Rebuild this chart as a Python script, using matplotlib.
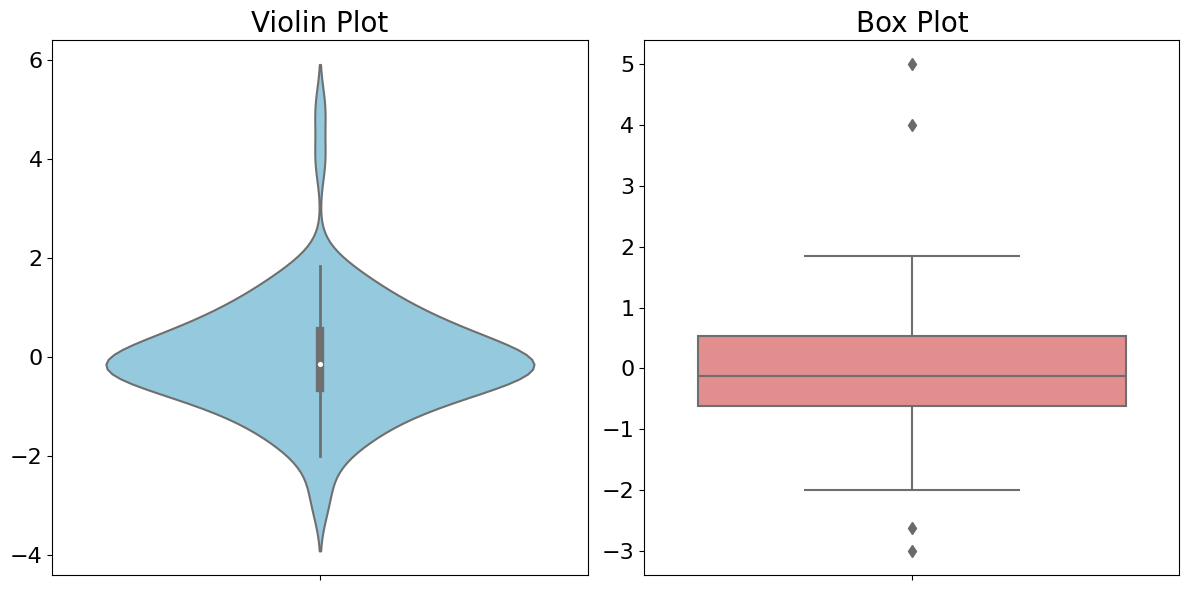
import matplotlib
matplotlib.use('Agg')
import matplotlib.pyplot as plt
import seaborn as sns
import pandas as pd

# sample values (box stats: q1 -0.62, median -0.13, q3 0.53)
values = [-3.00, -2.62, -1.99, -1.92, -1.76, -1.63, -1.55, -1.47, -1.41, -1.33,
          -1.24, -1.19, -1.12, -1.06, -1.01, -0.96, -0.91, -0.87, -0.83, -0.78,
          -0.74, -0.71, -0.68, -0.65, -0.62, -0.59, -0.56, -0.53, -0.50, -0.47,
          -0.45, -0.42, -0.40, -0.37, -0.35, -0.33, -0.31, -0.29, -0.27, -0.25,
          -0.23, -0.21, -0.20, -0.18, -0.17, -0.16, -0.15, -0.14, -0.13, -0.125,
          -0.115, -0.10, -0.08, -0.06, -0.04, -0.02, 0.00, 0.03, 0.06, 0.09,
          0.12, 0.15, 0.18, 0.21, 0.24, 0.27, 0.30, 0.33, 0.36, 0.40,
          0.44, 0.49, 0.53, 0.56, 0.59, 0.62, 0.66, 0.68, 0.71, 0.76,
          0.81, 0.87, 0.93, 0.99, 1.02, 1.06, 1.13, 1.21, 1.29, 1.38,
          1.47, 1.56, 1.66, 1.76, 1.85, 4.00, 5.00]

titles = ["Violin Plot", "Box Plot"]
colors = ["skyblue", "lightcoral"]

df = pd.DataFrame({"value": values})

fig, axes = plt.subplots(1, 2, figsize=(11.89, 5.9), dpi=100)

sns.violinplot(y="value", data=df, color=colors[0], ax=axes[0], linewidth=1.5,
               inner_kws=dict(box_width=6, whis_width=2, marker="."))
sns.boxplot(y="value", data=df, color=colors[1], ax=axes[1], linewidth=1.5,
            width=0.8,
            flierprops=dict(marker="d", markersize=6,
                            markerfacecolor="#6a6a6a", markeredgecolor="#6a6a6a"))

for ax, t in zip(axes, titles):
    ax.set_title(t, fontsize=20)
    ax.set_ylabel("")
    ax.set_xlabel("")
    ax.set_xticks([0])
    ax.set_xticklabels([""])
    ax.tick_params(axis="y", labelsize=16)

plt.subplots_adjust(left=0.044, right=0.992, top=0.932, bottom=0.025, wspace=0.106)
plt.savefig("out.png")
plt.close()
